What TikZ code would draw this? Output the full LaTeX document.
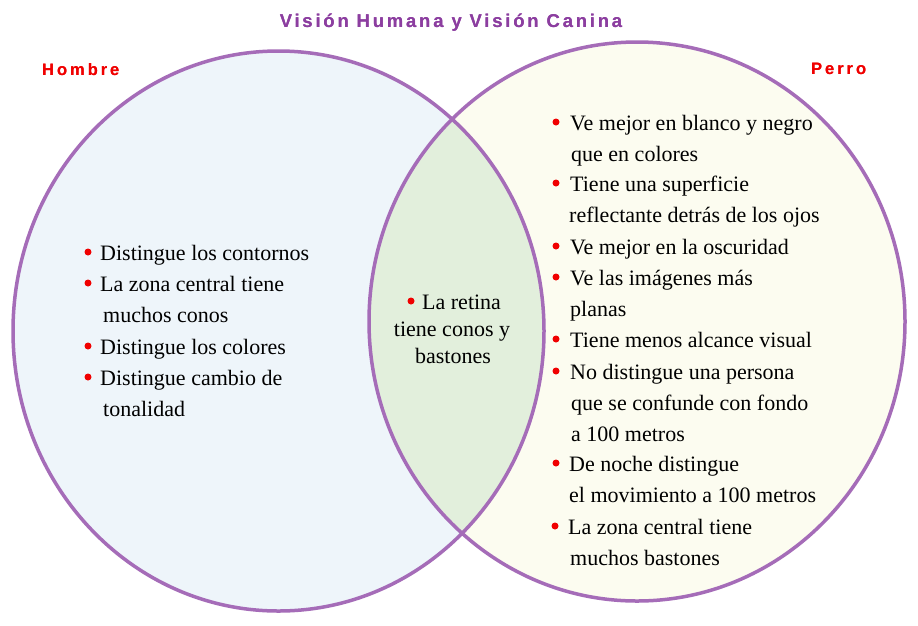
\documentclass[tikz,border=0pt]{standalone}
\usepackage{fontspec}
\usepackage[outline]{contour}
\contourlength{0.45pt}
\contournumber{16}
\setmainfont{Liberation Serif}
\newfontfamily\headfont{Liberation Sans}[BoldFont={Liberation Sans Bold}]
\definecolor{vline}{RGB}{165,108,184}
\definecolor{titlecol}{RGB}{140,62,160}
\definecolor{leftfill}{RGB}{238,245,250}
\definecolor{rightfill}{RGB}{252,252,240}
\definecolor{lensfill}{RGB}{226,239,220}
\definecolor{bulred}{RGB}{240,0,0}
\tikzset{
  txt/.style={inner sep=0pt, anchor=base west, font=\fontsize{22}{26}\selectfont},
  ctxt/.style={txt, anchor=base},
  bul/.style={circle, fill=bulred, inner sep=0pt, minimum size=7pt},
  ring/.style={draw=vline, line width=3.5pt},
  head/.style={inner sep=0pt, font=\headfont\bfseries\addfontfeatures{LetterSpace=15}\fontsize{18.5}{20}\selectfont},
  side/.style={inner sep=0pt, text=bulred, anchor=base west, font=\headfont\bfseries\addfontfeatures{LetterSpace=18}\fontsize{16.5}{18}\selectfont}
}
\begin{document}
\begin{tikzpicture}[x=1pt,y=-1pt]
\useasboundingbox[fill=white] (0,0) rectangle (918,625);
% fills
\fill[leftfill] (278.5,331) ellipse [x radius=265.5pt, y radius=280pt];
\fill[rightfill] (637,321.5) ellipse [x radius=268pt, y radius=279.5pt];
\begin{scope}
  \clip (278.5,331) ellipse [x radius=265.5pt, y radius=280pt];
  \fill[lensfill] (637,321.5) ellipse [x radius=268pt, y radius=279.5pt];
\end{scope}
\draw[ring] (278.5,331) ellipse [x radius=265.5pt, y radius=280pt];
\draw[ring] (637,321.5) ellipse [x radius=268pt, y radius=279.5pt];
% headings
\node[head, text=titlecol, anchor=base] (title) at (451,27) {\contour{titlecol}{Visión Humana y Visión Canina}};
\node[side] (hombre) at (42,75) {\contour{bulred}{Hombre}};
\node[side] (perro) at (811,74) {\contour{bulred}{Perro}};
% left list
\node[bul] (lb1) at (88,252) {};
\node[txt] (l1) at (100,260) {Distingue los contornos};
\node[bul] (lb2) at (88,283) {};
\node[txt] (l2) at (100,291) {La zona central tiene};
\node[txt] (l3) at (103,322) {muchos conos};
\node[bul] (lb3) at (88,346) {};
\node[txt] (l4) at (100,354) {Distingue los colores};
\node[bul] (lb4) at (88,377) {};
\node[txt] (l5) at (100,385) {Distingue cambio de};
\node[txt] (l6) at (103,416) {tonalidad};
% lens
\node[bul] (cb1) at (411,301) {};
\node[txt] (c1) at (422,309) {La retina};
\node[ctxt] (c2) at (452,336) {tiene conos y};
\node[ctxt] (c3) at (453,363) {bastones};
% right list
\node[bul] (rb1) at (556,122) {};
\node[txt] (r1) at (570,130) {Ve mejor en blanco y negro};
\node[txt] (r2) at (571,161) {que en colores};
\node[bul] (rb2) at (556,183) {};
\node[txt] (r3) at (570,191) {Tiene una superficie};
\node[txt] (r4) at (569,222) {reflectante detrás de los ojos};
\node[bul] (rb3) at (556,246) {};
\node[txt] (r5) at (570,254) {Ve mejor en la oscuridad};
\node[bul] (rb4) at (556,277) {};
\node[txt] (r6) at (570,285) {Ve las imágenes más};
\node[txt] (r7) at (570,316) {planas};
\node[bul] (rb5) at (556,339) {};
\node[txt] (r8) at (570,347) {Tiene menos alcance visual};
\node[bul] (rb6) at (556,371) {};
\node[txt] (r9) at (570,379) {No distingue una persona};
\node[txt] (r10) at (571,410) {que se confunde con fondo};
\node[txt] (r11) at (571,441) {a 100 metros};
\node[bul] (rb7) at (556,463) {};
\node[txt] (r12) at (569,471) {De noche distingue};
\node[txt] (r13) at (569,502) {el movimiento a 100 metros};
\node[bul] (rb8) at (555,526) {};
\node[txt] (r14) at (568,534) {La zona central tiene};
\node[txt] (r15) at (570,565) {muchos bastones};
\end{tikzpicture}
\end{document}
